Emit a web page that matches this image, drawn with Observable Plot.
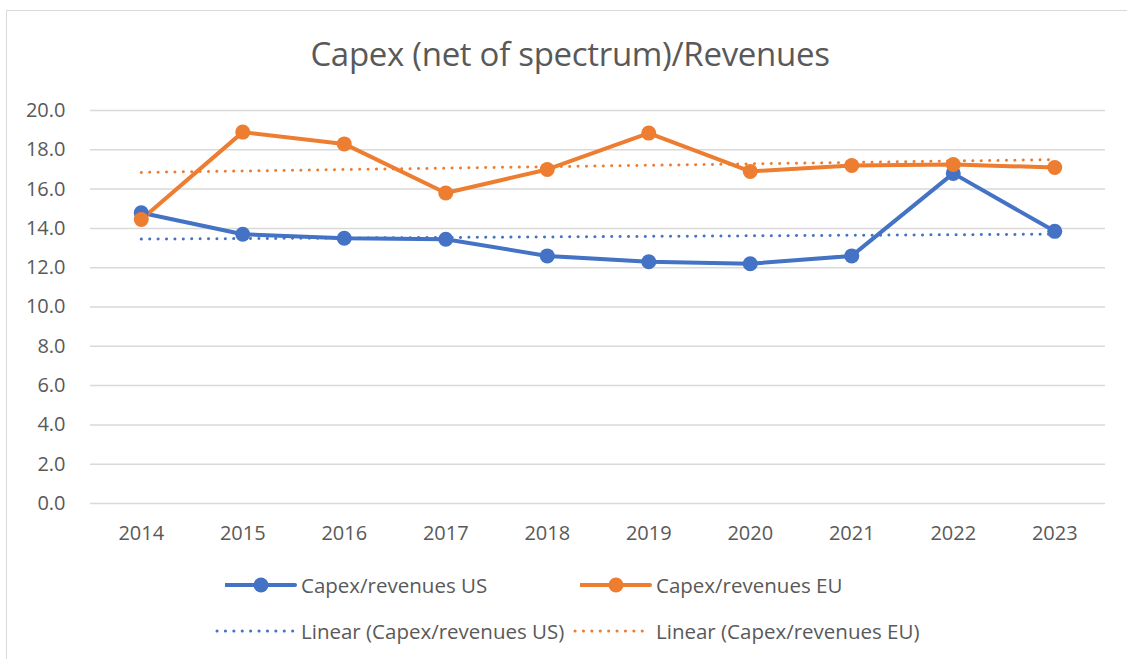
<!DOCTYPE html>
<html>
<head>
<meta charset="utf-8">
<script src="https://cdn.jsdelivr.net/npm/d3@7"></script>
<script src="https://cdn.jsdelivr.net/npm/@observablehq/plot@0.6"></script>
<style>
  html, body { margin: 0; padding: 0; background: #fff; width: 1127px; height: 659px; overflow: hidden; }
  body { position: relative; font-family: "Open Sans", "Noto Sans", sans-serif; color: #595959; }
  #frame { position: absolute; left: 6px; top: 10px; width: 1130px; height: 660px; border: 1.5px solid #d9d9d9; box-sizing: border-box; }
  #title { position: absolute; left: 0; width: 1140px; top: 32px; text-align: center; font-size: 33px; color: #595959; letter-spacing: -0.3px; line-height: 44px; }
  #chart { position: absolute; left: 0; top: 0; }
  #chart svg text { font-size: 20px; fill: #595959; }
  .leg { position: absolute; display: flex; align-items: center; font-size: 20.5px; color: #595959; white-space: nowrap; }
  .leg svg { margin-right: 4px; }
</style>
</head>
<body>
<div id="frame"></div>
<div id="title">Capex (net of spectrum)/Revenues</div>
<div id="chart"></div>
<div id="legend"></div>
<script>
const years = [2014, 2015, 2016, 2017, 2018, 2019, 2020, 2021, 2022, 2023];
const capexUS = [14.8, 13.7, 13.5, 13.45, 12.6, 12.3, 12.2, 12.6, 16.8, 13.85];
const capexEU = [14.45, 18.9, 18.3, 15.8, 17.0, 18.85, 16.9, 17.2, 17.25, 17.1];
const yTicks = [0, 2, 4, 6, 8, 10, 12, 14, 16, 18, 20];
const seriesNames = ["Capex/revenues US", "Capex/revenues EU"];
const trendNames = ["Linear (Capex/revenues US)", "Linear (Capex/revenues EU)"];
const colors = ["#4472C4", "#ED7D31"];

const data = [];
years.forEach((yr, i) => {
  data.push({year: yr, value: capexUS[i], series: seriesNames[0]});
  data.push({year: yr, value: capexEU[i], series: seriesNames[1]});
});

const chart = Plot.plot({
  width: 1127,
  height: 545,
  marginLeft: 90,
  marginRight: 22,
  marginTop: 110,
  marginBottom: 42,
  style: {fontFamily: "'Open Sans', 'Noto Sans', sans-serif", fontSize: "20px", color: "#595959", background: "transparent"},
  x: {domain: [2013.5, 2023.5], label: null},
  y: {domain: [0, 20], label: null},
  color: {domain: seriesNames, range: colors},
  marks: [
    Plot.ruleY(yTicks, {stroke: "#d9d9d9", strokeWidth: 1.5}),
    Plot.axisX({ticks: years, tickFormat: d => String(d), tickSize: 0, tickPadding: 22, fontSize: 20, fill: "#595959", label: null}),
    Plot.axisY({ticks: yTicks, tickFormat: d => d.toFixed(1), tickSize: 0, tickPadding: 25, fontSize: 20, fill: "#595959", label: null}),
    Plot.linearRegressionY(data, {x: "year", y: "value", stroke: "series", ci: 0, strokeWidth: 3, strokeDasharray: "0.1 8.3", strokeLinecap: "round"}),
    Plot.line(data, {x: "year", y: "value", z: "series", stroke: "series", strokeWidth: 4, strokeLinejoin: "round"}),
    Plot.dot(data, {x: "year", y: "value", fill: "series", r: 7.5, stroke: "none"})
  ]
});
document.getElementById("chart").appendChild(chart);

// Legend
const legend = document.getElementById("legend");
const items = [
  {name: seriesNames[0], color: colors[0], left: 225, top: 585, dotted: false, w: 72},
  {name: seriesNames[1], color: colors[1], left: 580, top: 585, dotted: false, w: 72},
  {name: trendNames[0], color: colors[0], left: 215, top: 631, dotted: true, w: 82},
  {name: trendNames[1], color: colors[1], left: 573, top: 631, dotted: true, w: 79}
];
items.forEach(it => {
  const div = document.createElement("div");
  div.className = "leg";
  div.style.left = it.left + "px";
  div.style.top = (it.top - 14) + "px";
  div.style.height = "28px";
  const ns = "http://www.w3.org/2000/svg";
  const svg = document.createElementNS(ns, "svg");
  svg.setAttribute("width", it.w);
  svg.setAttribute("height", 20);
  const line = document.createElementNS(ns, "line");
  line.setAttribute("x1", it.dotted ? 2 : 0);
  line.setAttribute("x2", it.w - 2);
  line.setAttribute("y1", 10);
  line.setAttribute("y2", 10);
  line.setAttribute("stroke", it.color);
  if (it.dotted) {
    line.setAttribute("stroke-width", 3);
    line.setAttribute("stroke-dasharray", "0.1 8.3");
    line.setAttribute("stroke-linecap", "round");
  } else {
    line.setAttribute("stroke-width", 4);
    line.setAttribute("stroke-linecap", "round");
  }
  svg.appendChild(line);
  if (!it.dotted) {
    const c = document.createElementNS(ns, "circle");
    c.setAttribute("cx", it.w / 2);
    c.setAttribute("cy", 10);
    c.setAttribute("r", 7.5);
    c.setAttribute("fill", it.color);
    svg.appendChild(c);
  }
  div.appendChild(svg);
  const span = document.createElement("span");
  span.textContent = it.name;
  div.appendChild(span);
  legend.appendChild(div);
});
</script>
</body>
</html>
